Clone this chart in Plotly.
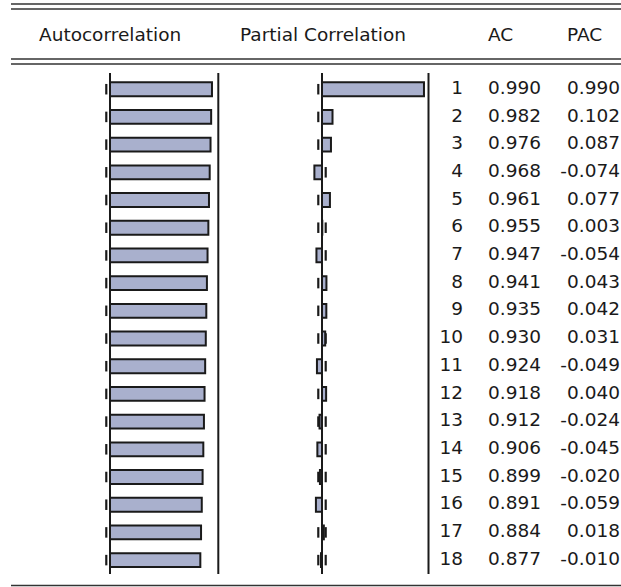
import plotly.graph_objects as go

# Correlogram: autocorrelation and partial autocorrelation by lag
lags = list(range(1, 19))
ac = [0.990, 0.982, 0.976, 0.968, 0.961, 0.955, 0.947, 0.941, 0.935,
      0.930, 0.924, 0.918, 0.912, 0.906, 0.899, 0.891, 0.884, 0.877]
pac = [0.990, 0.102, 0.087, -0.074, 0.077, 0.003, -0.054, 0.043, 0.042,
       0.031, -0.049, 0.040, -0.024, -0.045, -0.020, -0.059, 0.018, -0.010]
se_bound = 0.036  # approximate +/- 2 standard error band

W, H = 621, 587
FILL = "#a9b0cd"
DARK = "#1a1a1a"
FONT = dict(family="DejaVu Sans", size=18.5, color="#1a1a1a")

ROW0, ROWSTEP = 89.2, 27.7          # pixel centre of first row, row pitch
PX_PER_UNIT = 103.0
AC_ZERO, PAC_ZERO = 110.0, 322.0    # pixel position of the zero lines

def ypx(p):
    return 1 - p / H

y_range = [1 + (H - ROW0) / ROWSTEP, 1 - ROW0 / ROWSTEP]

fig = go.Figure()

bar_style = dict(orientation="h", width=0.5,
                 marker=dict(color=FILL, line=dict(color=DARK, width=2)),
                 hoverinfo="skip", showlegend=False)
fig.add_trace(go.Bar(x=ac, y=lags, xaxis="x", yaxis="y", **bar_style))
fig.add_trace(go.Bar(x=pac, y=lags, xaxis="x2", yaxis="y", **bar_style))

# numeric table columns
def column(xpos, labels):
    return go.Scatter(x=[xpos] * len(lags), y=lags, text=labels, mode="text",
                      textposition="middle left", textfont=FONT,
                      xaxis="x3", yaxis="y", hoverinfo="skip", showlegend=False)

fig.add_trace(column(463, [str(l) for l in lags]))
fig.add_trace(column(541, [f"{v:.3f}" for v in ac]))
fig.add_trace(column(620, [f"{v:.3f}" for v in pac]))

shapes = []
line = dict(color=DARK, width=2)

# short dashes marking the standard error band on every row, kept under the bars
for ax in ("x", "x2"):
    for lag in lags:
        for s in (-se_bound, se_bound):
            shapes.append(dict(type="line", xref=ax, yref="y", x0=s, x1=s,
                               y0=lag - 0.19, y1=lag + 0.19, layer="below",
                               line=dict(color=DARK, width=2.2)))

# header rules
for yy in (4, 9, 59, 64):
    shapes.append(dict(type="line", xref="paper", yref="paper",
                       x0=11 / W, x1=1, y0=ypx(yy), y1=ypx(yy),
                       line=dict(color="#333333", width=1.6)))
shapes.append(dict(type="line", xref="paper", yref="paper",
                   x0=11 / W, x1=1, y0=ypx(585.5), y1=ypx(585.5),
                   line=dict(color="#333333", width=1.6)))
# zero lines
for ax in ("x", "x2"):
    shapes.append(dict(type="line", xref=ax, yref="paper", x0=0, x1=0,
                       y0=ypx(73), y1=ypx(574), line=line, layer="above"))
# column separators
for xx in (218.3, 428.5):
    shapes.append(dict(type="line", xref="paper", yref="paper",
                       x0=xx / W, x1=xx / W, y0=ypx(73), y1=ypx(574),
                       line=line))

annotations = []
for txt, cx in (("Autocorrelation", 109.5), ("Partial Correlation", 322.5),
                ("AC", 500), ("PAC", 584)):
    annotations.append(dict(text=txt, x=cx / W, y=ypx(34), xref="paper",
                            yref="paper", xanchor="center", yanchor="middle",
                            showarrow=False, font=FONT))

hidden = dict(visible=False, showgrid=False, zeroline=False, fixedrange=True)
fig.update_layout(
    width=W, height=H, margin=dict(l=0, r=0, t=0, b=0),
    paper_bgcolor="white", plot_bgcolor="rgba(0,0,0,0)",
    barmode="overlay", shapes=shapes, annotations=annotations,
    xaxis=dict(domain=[0, 1], range=[-AC_ZERO / PX_PER_UNIT,
                                     (W - AC_ZERO) / PX_PER_UNIT], **hidden),
    xaxis2=dict(domain=[0, 1], overlaying="x", range=[-PAC_ZERO / PX_PER_UNIT,
                                                      (W - PAC_ZERO) / PX_PER_UNIT],
                **hidden),
    xaxis3=dict(domain=[0, 1], overlaying="x", range=[0, W], **hidden),
    yaxis=dict(domain=[0, 1], range=y_range, **hidden),
)

fig.write_html("out.html")
